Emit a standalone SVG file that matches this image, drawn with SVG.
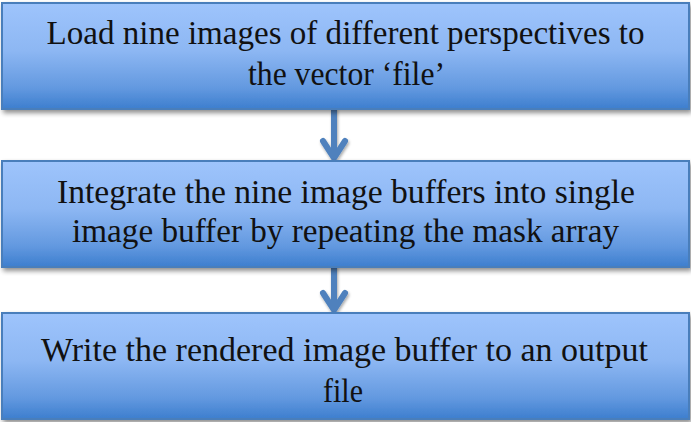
<svg xmlns="http://www.w3.org/2000/svg" width="691" height="422" viewBox="0 0 691 422">
<defs>
<linearGradient id="boxGrad" x1="0" y1="0" x2="0" y2="1">
<stop offset="0" stop-color="#9EC4FC"/>
<stop offset="0.45" stop-color="#8DB7F3"/>
<stop offset="0.8" stop-color="#6399E0"/>
<stop offset="1" stop-color="#3D7ECE"/>
</linearGradient>
<filter id="shadow" x="-5%" y="-10%" width="110%" height="130%">
<feGaussianBlur in="SourceAlpha" stdDeviation="2.5"/>
<feOffset dx="2" dy="3" result="b"/>
<feComponentTransfer><feFuncA type="linear" slope="0.45"/></feComponentTransfer>
<feMerge><feMergeNode/><feMergeNode in="SourceGraphic"/></feMerge>
</filter>
<filter id="ashadow" x="-50%" y="-20%" width="200%" height="150%">
<feGaussianBlur in="SourceAlpha" stdDeviation="1.5"/>
<feOffset dx="1" dy="2" result="b"/>
<feComponentTransfer><feFuncA type="linear" slope="0.35"/></feComponentTransfer>
<feMerge><feMergeNode/><feMergeNode in="SourceGraphic"/></feMerge>
</filter>
</defs>
<style>
.box{fill:url(#boxGrad);stroke:#4A7EBB;stroke-width:2;filter:url(#shadow)}
.lbl{font-family:"Liberation Serif","DejaVu Serif",serif;font-size:33px;fill:#111;text-anchor:middle}
.arr{fill:none;stroke:#4F81BD;stroke-width:6;stroke-linecap:round;stroke-linejoin:round;filter:url(#ashadow)}
</style>
<rect width="691" height="422" fill="#fff"/>
<g id="connectors">
<path class="arr" d="M334 110 V158 M323 141 L334 158 L345 141"/>
<path class="arr" d="M334 268 V310 M323 293 L334 310 L345 293"/>
</g>
<g id="node1">
<rect class="box" x="2" y="3" width="687" height="106"/>
<text class="lbl" x="345.5" y="44" textLength="598" lengthAdjust="spacingAndGlyphs">Load nine images of different perspectives to</text>
<text class="lbl" x="346.5" y="85" textLength="197" lengthAdjust="spacingAndGlyphs">the vector ‘file’</text>
</g>
<g id="node2">
<rect class="box" x="2" y="161" width="687" height="106"/>
<text class="lbl" x="346" y="203" textLength="578" lengthAdjust="spacingAndGlyphs">Integrate the nine image buffers into single</text>
<text class="lbl" x="345.5" y="242" textLength="547" lengthAdjust="spacingAndGlyphs">image buffer by repeating the mask array</text>
</g>
<g id="node3">
<rect class="box" x="2" y="313" width="687" height="106"/>
<text class="lbl" x="344.5" y="361" textLength="607" lengthAdjust="spacingAndGlyphs">Write the rendered image buffer to an output</text>
<text class="lbl" x="343" y="402" textLength="40" lengthAdjust="spacingAndGlyphs">file</text>
</g>
</svg>
